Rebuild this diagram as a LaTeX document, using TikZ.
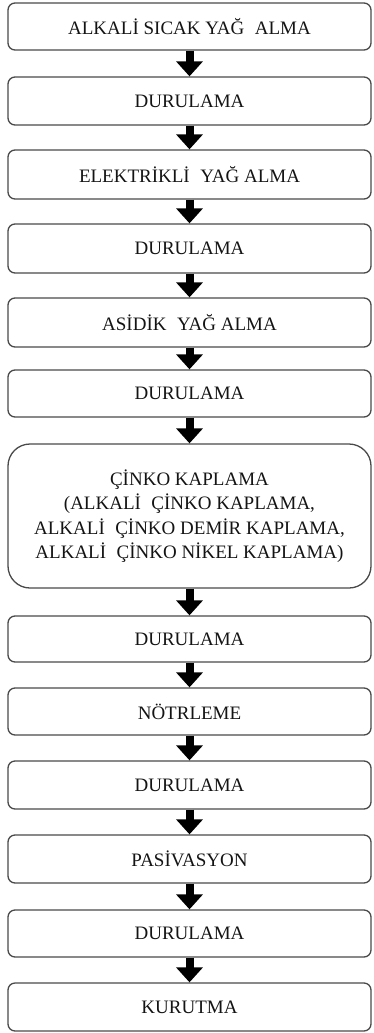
\documentclass[tikz,border=0pt]{standalone}
\usepackage{fontspec}
\setmainfont{Liberation Serif}
\usetikzlibrary{arrows.meta}
\definecolor{boxline}{HTML}{4A4A4A}
\definecolor{txt}{HTML}{141414}
\tikzset{
  stepbox/.style={draw=boxline, line width=1.3pt, rounded corners=7pt,
    minimum width=363pt, inner sep=0pt, align=center, text=txt,
    font=\fontsize{19}{24.5}\selectfont},
  bigbox/.style={stepbox, rounded corners=22pt},
  flowarrow/.style={draw=black, line width=8pt,
    -{Triangle[width=26pt,length=15pt]}}
}
\begin{document}
\begin{tikzpicture}[x=1pt,y=-1pt]
\useasboundingbox (0,0) rectangle (374,1033);
\node[stepbox, minimum height=47pt] (b1) at (189.5,26.5) {ALKALİ SICAK YAĞ\hspace{0.3em} ALMA};
\node[stepbox, minimum height=48pt] (b2) at (189.5,101) {DURULAMA};
\node[stepbox, minimum height=49pt] (b3) at (189.5,174.5) {ELEKTRİKLİ\hspace{0.3em} YAĞ ALMA};
\node[stepbox, minimum height=49pt] (b4) at (189.5,248.5) {DURULAMA};
\node[stepbox, minimum height=49pt] (b5) at (189.5,322.5) {ASİDİK\hspace{0.3em} YAĞ ALMA};
\node[stepbox, minimum height=47pt] (b6) at (189.5,393.5) {DURULAMA};
\node[bigbox, minimum height=144pt] (b7) at (189.5,516) {ÇİNKO KAPLAMA\\(ALKALİ\hspace{0.3em} ÇİNKO KAPLAMA,\\ALKALİ\hspace{0.3em} ÇİNKO DEMİR KAPLAMA,\\ALKALİ\hspace{0.3em} ÇİNKO NİKEL KAPLAMA)};
\node[stepbox, minimum height=46pt] (b8) at (189.5,639) {DURULAMA};
\node[stepbox, minimum height=47pt] (b9) at (189.5,711.5) {NÖTRLEME};
\node[stepbox, minimum height=48pt] (b10) at (189.5,785) {DURULAMA};
\node[stepbox, minimum height=48pt] (b11) at (189.5,859) {PASİVASYON};
\node[stepbox, minimum height=47pt] (b12) at (189.5,933.5) {DURULAMA};
\node[stepbox, minimum height=48pt] (b13) at (189.5,1007) {KURUTMA};
\foreach \a/\b in {b1/b2,b2/b3,b3/b4,b4/b5,b5/b6,b6/b7,b7/b8,b8/b9,b9/b10,b10/b11,b11/b12,b12/b13}
  \draw[flowarrow] (\a.south) -- (\b.north);
\end{tikzpicture}
\end{document}
